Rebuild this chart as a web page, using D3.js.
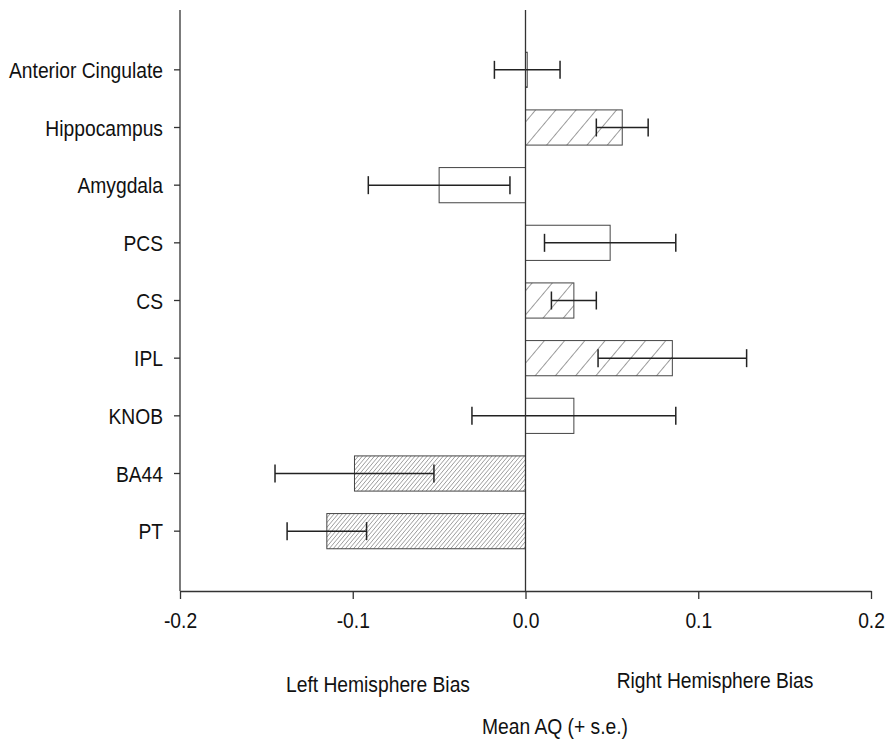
<!DOCTYPE html>
<html>
<head>
<meta charset="utf-8">
<script src="https://cdn.jsdelivr.net/npm/d3@7"></script>
<style>
  html, body { margin: 0; padding: 0; background: #fff; }
  svg { display: block; }
  text { font-family: "Liberation Sans", Arial, sans-serif; fill: #111; }
</style>
</head>
<body>
<svg id="chart" width="891" height="742"></svg>
<script>
// ---- data ----
const categories = ["Anterior Cingulate", "Hippocampus", "Amygdala", "PCS", "CS", "IPL", "KNOB", "BA44", "PT"];
const meanAQ     = [0.001, 0.056, -0.050, 0.049, 0.028, 0.085, 0.028, -0.099, -0.115];
const seAQ       = [0.019, 0.015, 0.041, 0.038, 0.013, 0.043, 0.059, 0.046, 0.023];
const fillKind   = ["open", "wide", "open", "open", "wide", "wide", "open", "dense", "dense"];
const xTickValues = [-0.2, -0.1, 0.0, 0.1, 0.2];
const xTickLabels = ["-0.2", "-0.1", "0.0", "0.1", "0.2"];
const sideLabels  = ["Left Hemisphere Bias", "Right Hemisphere Bias"];
const axisTitle   = "Mean AQ (+ s.e.)";

// ---- layout ----
const svg = d3.select("#chart");
const FS = 22, SX = 0.875;        // font size, horizontal condensation
const axisTop = 10, axisY = 591;

const x = d3.scaleLinear().domain([-0.2, 0.2]).range([180, 871]);
const y = d3.scaleBand().domain(categories).range([41, 560])
  .paddingInner(0.39).paddingOuter(0.195);

// patterns
const defs = svg.append("defs");
function hatch(id, w, angle, sw, color) {
  const p = defs.append("pattern").attr("id", id)
    .attr("patternUnits", "userSpaceOnUse")
    .attr("width", w).attr("height", 10)
    .attr("patternTransform", `rotate(${angle})`);
  p.append("line").attr("x1", 0).attr("y1", -1).attr("x2", 0).attr("y2", 11)
    .attr("stroke", color).attr("stroke-width", sw);
}
hatch("wide", 15.5, 40, 1, "#3a3a3a");
hatch("dense", 3.1, 40, 0.85, "#4a4a4a");

const data = categories.map((c, i) => ({ c, m: meanAQ[i], se: seAQ[i], f: fillKind[i] }));

// bars
svg.append("g").selectAll("rect").data(data).join("rect")
  .attr("x", d => x(Math.min(0, d.m)))
  .attr("y", d => y(d.c))
  .attr("width", d => Math.abs(x(d.m) - x(0)))
  .attr("height", y.bandwidth())
  .attr("fill", d => d.f === "open" ? "#fff" : `url(#${d.f})`)
  .attr("stroke", "#444").attr("stroke-width", 1);

// error bars
const eg = svg.append("g").attr("stroke", "#222").attr("stroke-width", 1.5).attr("fill", "none");
const capH = 9;
data.forEach(d => {
  const cy = y(d.c) + y.bandwidth() / 2;
  const x1 = x(d.m - d.se), x2 = x(d.m + d.se);
  eg.append("line").attr("x1", x1).attr("x2", x2).attr("y1", cy).attr("y2", cy);
  eg.append("line").attr("x1", x1).attr("x2", x1).attr("y1", cy - capH).attr("y2", cy + capH);
  eg.append("line").attr("x1", x2).attr("x2", x2).attr("y1", cy - capH).attr("y2", cy + capH);
});

// zero line
svg.append("line").attr("x1", x(0)).attr("x2", x(0)).attr("y1", axisTop).attr("y2", axisY)
  .attr("stroke", "#333").attr("stroke-width", 1.3);

// y axis
const yAxis = svg.append("g").attr("transform", `translate(${x(-0.2)},0)`)
  .call(d3.axisLeft(y).tickSize(6).tickPadding(11));
yAxis.select(".domain").remove();
yAxis.append("line").attr("x1", 0).attr("x2", 0).attr("y1", axisTop).attr("y2", axisY)
  .attr("stroke", "#333").attr("stroke-width", 1.3);
yAxis.selectAll(".tick line").attr("stroke", "#333").attr("stroke-width", 1.3);
yAxis.selectAll(".tick text")
  .attr("x", null).attr("dy", null).attr("y", null)
  .attr("transform", `translate(-17,8) scale(${SX},1)`)
  .style("font-size", FS + "px").attr("fill", "#111");

// x axis
const xAxis = svg.append("g").attr("transform", `translate(0,${axisY})`)
  .call(d3.axisBottom(x).tickValues(xTickValues)
    .tickFormat((d, i) => xTickLabels[i]).tickSize(8).tickSizeOuter(0));
xAxis.select(".domain").attr("stroke", "#333").attr("stroke-width", 1.3);
xAxis.selectAll(".tick line").attr("stroke", "#333").attr("stroke-width", 1.3);
xAxis.selectAll(".tick text")
  .attr("y", null).attr("dy", null)
  .attr("transform", `translate(0,37) scale(${SX},1)`)
  .style("font-size", FS + "px").attr("fill", "#111");

// side labels
function label(txt, cx, by, size) {
  svg.append("text").attr("text-anchor", "middle")
    .attr("transform", `translate(${cx},${by}) scale(${SX},1)`)
    .style("font-size", size + "px").text(txt);
}
label(sideLabels[0], 378, 692, FS);
label(sideLabels[1], 715, 688, FS);
label(axisTitle, 555, 734, FS);
</script>
</body>
</html>
